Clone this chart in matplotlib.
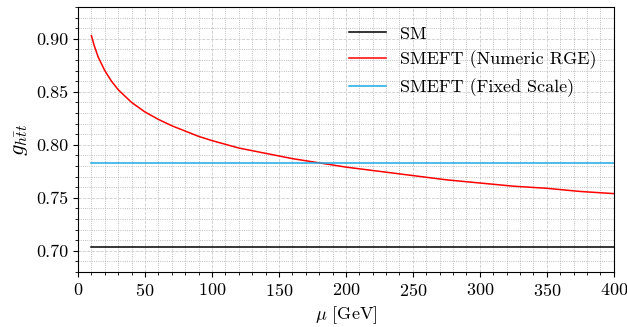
import matplotlib
matplotlib.use("Agg")
import matplotlib.pyplot as plt
from matplotlib.ticker import MultipleLocator

plt.rcParams['font.family'] = 'serif'
plt.rcParams['font.serif'] = ['cmr10']
plt.rcParams['mathtext.fontset'] = 'cm'
plt.rcParams['axes.formatter.use_mathtext'] = True
plt.rcParams['font.size'] = 13

# values
mu = [10, 12, 15, 20, 25, 30, 35, 40, 50, 60, 70, 80, 90, 100, 120, 140,
      160, 180, 200, 225, 250, 275, 300, 325, 350, 375, 400]
g_rge = [0.903, 0.894, 0.883, 0.870, 0.860, 0.852, 0.846, 0.840, 0.831,
         0.824, 0.818, 0.813, 0.808, 0.804, 0.797, 0.792, 0.787, 0.783,
         0.779, 0.775, 0.771, 0.767, 0.764, 0.761, 0.759, 0.756, 0.754]
mu_flat = [10, 400]
g_sm = [0.7035, 0.7035]
g_fixed = [0.783, 0.783]

fig = plt.figure(figsize=(6.27, 3.27), dpi=100)
ax = fig.add_axes([0.1244, 0.168, 0.8546, 0.8106])

ax.plot(mu_flat, g_sm, color='black', lw=1.1, label='SM')
ax.plot(mu, g_rge, color='red', lw=1.1, label='SMEFT (Numeric RGE)')
ax.plot(mu_flat, g_fixed, color='#1ca9e6', lw=1.1, label='SMEFT (Fixed Scale)')

ax.set_xlim(0, 400)
ax.set_ylim(0.68, 0.93)
ax.xaxis.set_major_locator(MultipleLocator(50))
ax.xaxis.set_minor_locator(MultipleLocator(10))
ax.yaxis.set_major_locator(MultipleLocator(0.05))
ax.yaxis.set_minor_locator(MultipleLocator(0.01))
ax.yaxis.set_major_formatter(plt.FormatStrFormatter('%.2f'))

ax.grid(which='major', linestyle='--', color='#cccccc', lw=0.6)
ax.grid(which='minor', linestyle=':', color='#aaaaaa', lw=0.6)
ax.set_axisbelow(True)

ax.set_xlabel(r'$\mu$ [GeV]')
ax.set_ylabel(r'$g_{h\bar{t}t}$', fontsize=16)
ax.legend(loc='upper right', frameon=False, fontsize=13,
          bbox_to_anchor=(0.998, 0.99))

fig.savefig('out.png', dpi=100)
